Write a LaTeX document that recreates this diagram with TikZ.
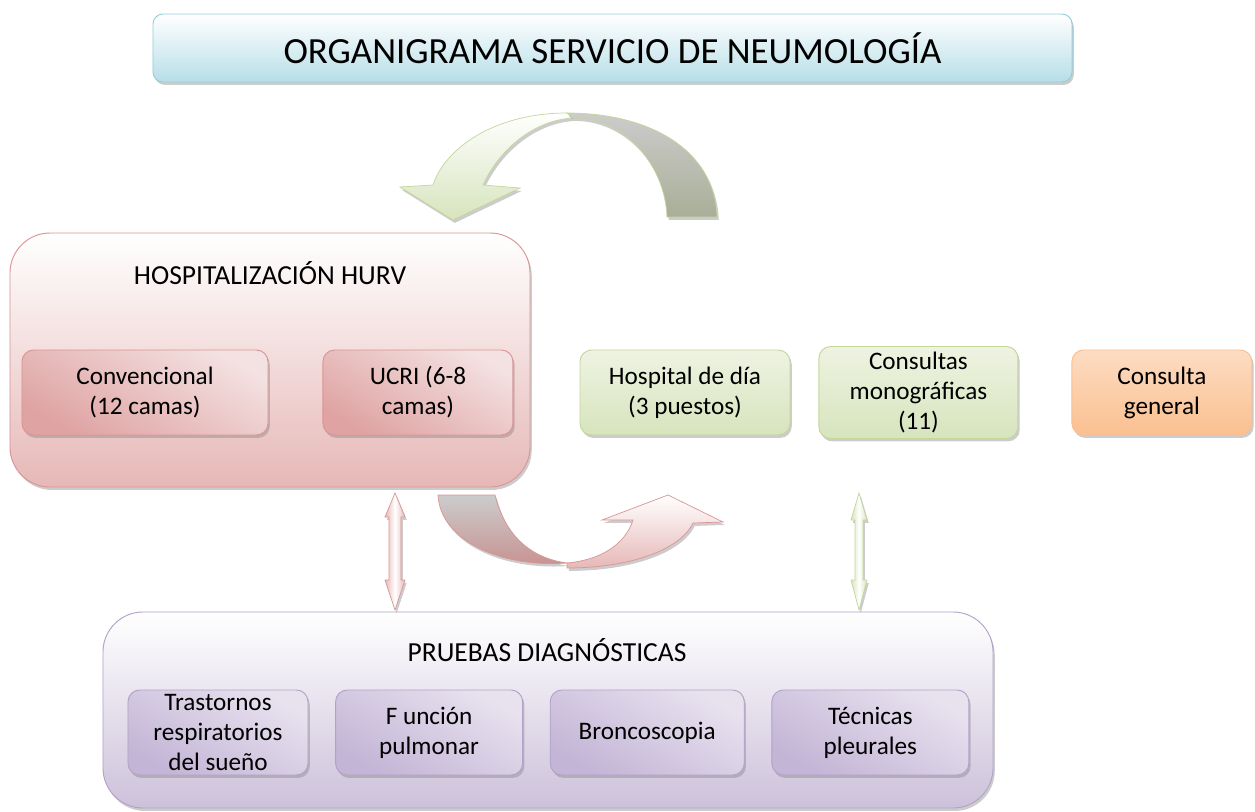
\documentclass[tikz,border=0pt]{standalone}
\usepackage{fontspec}
\setmainfont{Carlito}
\usetikzlibrary{positioning,shadows,calc}

\definecolor{pinkline}{HTML}{D99594}
\definecolor{pinkfill}{HTML}{E6B8B7}
\definecolor{pinkdark}{HTML}{DFA3A3}
\definecolor{pinklight}{HTML}{F4E1E1}
\definecolor{greenline}{HTML}{C3D69B}
\definecolor{greenfill}{HTML}{D7E4BD}
\definecolor{greenlight}{HTML}{EEF3E2}
\definecolor{orangeline}{HTML}{FABF8F}
\definecolor{orangefill}{HTML}{FAC090}
\definecolor{orangelight}{HTML}{FDDCC2}
\definecolor{lilaline}{HTML}{B3A2C7}
\definecolor{lilafill}{HTML}{CCC1DA}
\definecolor{liladark}{HTML}{C3B5D6}
\definecolor{lilalight}{HTML}{E8E2EF}
\definecolor{cyanline}{HTML}{93CDDD}
\definecolor{cyanfill}{HTML}{B7DEE8}
\definecolor{greyarrow}{HTML}{A9AE98}

\begin{document}
\begin{tikzpicture}[x=0.03cm, y=-0.03cm, node distance=0.8cm, line width=0.8pt]
\tikzstyle{shade box}=[drop shadow={shadow xshift=1.5pt, shadow yshift=-2.5pt, opacity=0.4}]
\tikzstyle{big box}=[shade box, rounded corners=1.2cm, draw=pinkline, top color=white, bottom color=pinkfill]
\tikzstyle{small box}=[shade box, rounded corners=0.35cm, align=center, font=\fontsize{21.5}{25.6}\selectfont, minimum height=2.55cm]
\tikzstyle{pink box}=[small box, draw=pinkline, top color=pinklight, bottom color=pinkdark, shading angle=-30]
\tikzstyle{green box}=[small box, draw=greenline, top color=greenlight, bottom color=greenfill]
\tikzstyle{orange box}=[small box, draw=orangeline, top color=orangelight, bottom color=orangefill]
\tikzstyle{lila box}=[small box, draw=lilaline, top color=lilalight, bottom color=liladark, shading angle=-30]
\tikzstyle{head text}=[font=\fontsize{23.5}{28}\selectfont]
\tikzstyle{fat arrow}=[shade box, line width=0.6pt]
\useasboundingbox (0,0) rectangle (1255,812);

% title
\node[shade box, draw=cyanline, rounded corners=0.3cm, top color=white, bottom color=cyanfill,
      minimum width=27.57cm, minimum height=2.04cm, font=\fontsize{31.5}{38}\selectfont]
      (title) at (612.5,48) {ORGANIGRAMA SERVICIO DE NEUMOLOGÍA};

% hospitalizacion
\node[big box, minimum width=15.6cm, minimum height=7.62cm] (hosp) at (270,360) {};
\node[head text] (hosptit) at (270,273) {HOSPITALIZACIÓN HURV};
\node[pink box, minimum width=7.38cm] (conv) at (145,392.5) {Convencional\\(12 camas)};
\node[pink box, minimum width=5.7cm] (ucri) [right=1.62cm of conv] {UCRI (6-8\\camas)};

% consultas
\node[green box, minimum width=6.3cm] (hdia) at (685,392.5) {Hospital de día\\(3 puestos)};
\node[green box, minimum width=5.97cm, minimum height=2.76cm] (mono) [right=0.84cm of hdia] {Consultas\\monográficas\\(11)};
\node[orange box, minimum width=5.4cm] (gen) [right=1.59cm of mono] {Consulta\\general};

% pruebas
\node[big box, draw=lilaline, bottom color=lilafill, minimum width=26.7cm, minimum height=5.88cm] (pru) at (548,710) {};
\node[head text] (prutit) at (547,650) {PRUEBAS DIAGNÓSTICAS};
\node[lila box, minimum width=5.4cm] (tras) at (218,732.5) {Trastornos\\respiratorios\\del sueño};
\node[lila box, minimum width=5.61cm] (func) [right=of tras] {F unción\\pulmonar};
\node[lila box, minimum width=5.82cm] (bron) [right=of func] {Broncoscopia};
\node[lila box, minimum width=5.91cm] (tec) [right=of bron] {Técnicas\\pleurales};

% double arrows
\coordinate (pa) at (395,493);
\coordinate (ga) at (859,493);
\draw[fat arrow, draw=pinkline, left color=pinkfill, right color=pinkfill, middle color=white]
  (pa) -- ++(10,24) -- ++(-4,0) -- ++(0,63) -- ++(4,0) -- ++(-10,30)
       -- ++(-10,-30) -- ++(4,0) -- ++(0,-63) -- ++(-4,0) -- cycle;
\draw[fat arrow, draw=greenline, left color=greenfill, right color=greenfill, middle color=white]
  (ga) -- ++(8,27) -- ++(-4,0) -- ++(0,60) -- ++(4,0) -- ++(-8,30)
       -- ++(-8,-30) -- ++(4,0) -- ++(0,-60) -- ++(-4,0) -- cycle;

% curved arrow top
\draw[fat arrow, draw=greenline, top color=white, bottom color=greenfill]
  (567,113) .. controls (495,113) and (445,148) .. (433,185) -- (400,187) -- (453,220)
  -- (520,188) -- (483,185) .. controls (500,148) and (535,120) .. (573,118) -- cycle;
\draw[fat arrow, draw=greenline, top color=gray!40, bottom color=greyarrow]
  (567,113) .. controls (650,113) and (715,150) .. (717,217) -- (667,217)
  .. controls (665,165) and (625,118) .. (573,118) -- cycle;

% curved arrow bottom
\draw[fat arrow, draw=pinkline, top color=gray!40, bottom color=pinkline!80!gray]
  (438,495) -- (495,495) .. controls (505,535) and (530,558) .. (567,563)
  .. controls (500,568) and (440,540) .. (438,495) -- cycle;
\draw[fat arrow, draw=pinkline, top color=white, bottom color=pinkfill]
  (567,563) .. controls (600,560) and (625,545) .. (633,520) -- (602,520) -- (668,495)
  -- (723,522) -- (693,523) .. controls (680,550) and (630,568) .. (567,568) -- cycle;
\end{tikzpicture}
\end{document}
